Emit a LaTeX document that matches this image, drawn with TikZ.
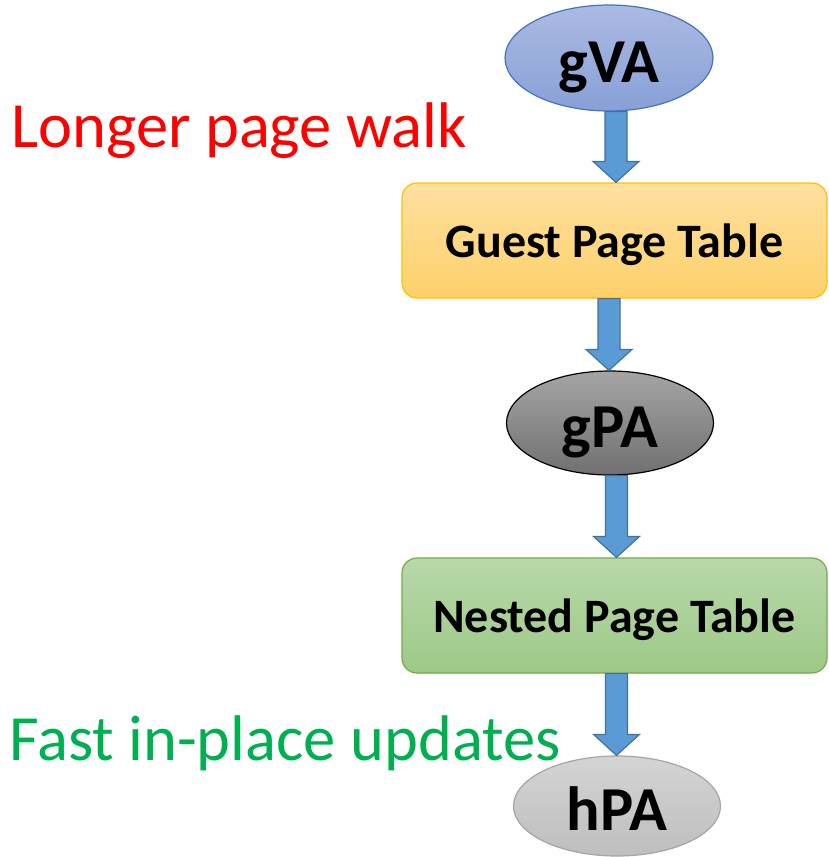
\documentclass[tikz,border=0pt]{standalone}
\usepackage{fontspec}
\setmainfont{Carlito}
\usetikzlibrary{shapes.geometric,calc}
\definecolor{arrfill}{RGB}{91,155,213}
\definecolor{arrdraw}{RGB}{65,113,156}
\definecolor{vatop}{RGB}{172,186,226}
\definecolor{vabot}{RGB}{136,160,215}
\definecolor{vadraw}{RGB}{68,114,196}
\definecolor{gttop}{RGB}{254,224,160}
\definecolor{gtbot}{RGB}{253,208,105}
\definecolor{gtdraw}{RGB}{255,192,0}
\definecolor{nttop}{RGB}{184,216,169}
\definecolor{ntbot}{RGB}{157,201,136}
\definecolor{ntdraw}{RGB}{112,173,71}
\definecolor{patop}{RGB}{165,165,165}
\definecolor{pabot}{RGB}{112,112,112}
\definecolor{hptop}{RGB}{212,212,212}
\definecolor{hpbot}{RGB}{190,190,190}
\definecolor{hpdraw}{RGB}{165,165,165}
\definecolor{redtxt}{RGB}{255,0,0}
\definecolor{greentxt}{RGB}{0,176,80}
\tikzset{
  addr/.style={ellipse, line width=1.2pt, inner sep=0pt,
    font=\fontsize{62.5}{62.5}\selectfont\bfseries, text height=48pt, text depth=0pt},
  tablebox/.style={rectangle, rounded corners=15pt, line width=1.2pt, inner sep=0pt,
    minimum width=425pt, minimum height=115pt,
    font=\fontsize{48}{48}\selectfont\bfseries, text height=33.5pt, text depth=0pt},
  note/.style={anchor=base west, inner sep=0pt, font=\fontsize{64.5}{64.5}\selectfont},
  blockarrow/.style={fill=arrfill, draw=arrdraw, line width=1.2pt, line join=miter,
    to path={let \p1=(\tikztostart), \p2=(\tikztotarget) in
      (\x1-11pt,\y1) -- (\x1-11pt,\y2+21pt) -- (\x1-23pt,\y2+21pt) -- (\x2,\y2)
      -- (\x1+23pt,\y2+21pt) -- (\x1+11pt,\y2+21pt) -- (\x1+11pt,\y1) -- cycle}}
}
\begin{document}
\begin{tikzpicture}[x=1pt,y=-1pt]
\useasboundingbox (0,0) rectangle (828,857);
\node[addr, minimum width=208pt, minimum height=106pt, top color=vatop, bottom color=vabot, draw=vadraw] (gva) at (609,58) {gVA};
\node[tablebox, top color=gttop, bottom color=gtbot, draw=gtdraw] (gpt) at (614.5,240.5) {Guest Page Table};
\node[addr, minimum width=207pt, minimum height=104pt, top color=patop, bottom color=pabot, draw=black] (gpa) at (610,423) {gPA};
\node[tablebox, top color=nttop, bottom color=ntbot, draw=ntdraw] (npt) at (614.5,615.5) {Nested Page Table};
\node[addr, minimum width=207pt, minimum height=100pt, top color=hptop, bottom color=hpbot, draw=hpdraw] (hpa) at (617,806) {hPA};
\node[note, text=redtxt] (longer) at (11,147) {Longer page walk};
\node[note, text=greentxt] (fast) at (9,760) {Fast in-place updates};
\coordinate (ax1) at (616,0);
\coordinate (ax2) at (609,0);
\coordinate (ax3) at (616.5,0);
\coordinate (ax4) at (616.5,0);
\draw[blockarrow] (gva.south -| ax1) to (gpt.north -| ax1);
\draw[blockarrow] (gpt.south -| ax2) to (gpa.north -| ax2);
\draw[blockarrow] (gpa.south -| ax3) to (npt.north -| ax3);
\draw[blockarrow] (npt.south -| ax4) to (hpa.north -| ax4);
\end{tikzpicture}
\end{document}
